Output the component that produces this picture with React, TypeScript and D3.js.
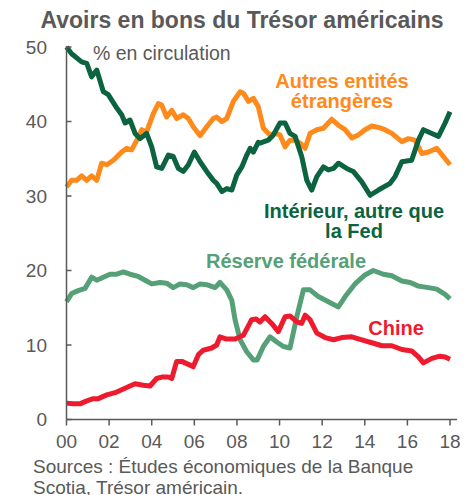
import React from "react";
import * as d3 from "d3";

const W = 473;
const H = 495;

const domesticYears = [0, 0.24, 0.71, 0.95, 1.18, 1.42, 1.73, 1.96, 2.36, 2.59, 2.75, 2.98, 3.22, 3.45, 3.76, 4.0, 4.23, 4.47, 4.78, 5.01, 5.25, 5.48, 5.72, 6.0, 6.27, 6.58, 6.89, 7.05, 7.29, 7.52, 7.76, 7.99, 8.23, 8.46, 8.62, 8.77, 9.0, 9.08, 9.47, 9.71, 10.02, 10.26, 10.49, 10.73, 11.04, 11.28, 11.51, 11.75, 12.06, 12.29, 12.53, 12.76, 13.15, 13.46, 13.86, 14.25, 14.64, 15.19, 15.42, 15.74, 16.2, 16.52, 16.75, 17.15, 17.46, 17.77, 18.0];
const domesticValues = [50.0, 49.1, 48.0, 47.8, 46.0, 46.9, 44.0, 43.6, 41.8, 40.9, 39.8, 40.2, 38.4, 37.7, 38.4, 36.6, 33.9, 33.7, 35.5, 35.3, 33.7, 33.3, 34.2, 35.9, 34.6, 33.3, 32.1, 31.7, 30.6, 31.0, 30.8, 32.8, 33.9, 35.5, 36.4, 35.9, 37.2, 37.1, 37.5, 38.2, 39.8, 39.8, 38.4, 38.0, 35.3, 32.1, 30.8, 32.6, 33.9, 33.5, 33.7, 34.4, 33.7, 33.3, 31.9, 30.1, 30.8, 31.7, 32.6, 34.6, 34.8, 37.5, 38.9, 38.4, 38.0, 39.8, 41.3];

const foreignYears = [0, 0.24, 0.48, 0.71, 0.95, 1.18, 1.42, 1.65, 1.89, 2.2, 2.59, 2.83, 3.06, 3.3, 3.53, 3.76, 4.08, 4.31, 4.47, 4.7, 4.94, 5.17, 5.48, 5.72, 5.95, 6.27, 6.58, 6.89, 7.05, 7.29, 7.52, 7.83, 8.15, 8.3, 8.54, 8.77, 9.0, 9.24, 9.55, 9.79, 10.02, 10.26, 10.49, 10.73, 10.96, 11.2, 11.43, 11.75, 12.06, 12.45, 12.76, 13.08, 13.39, 13.7, 14.01, 14.33, 14.64, 14.95, 15.27, 15.74, 16.05, 16.36, 16.68, 16.99, 17.38, 17.69, 18.0];
const foreignValues = [31.2, 32.1, 32.1, 32.7, 32.1, 32.7, 32.1, 34.4, 34.2, 34.8, 35.9, 36.4, 36.2, 37.5, 38.9, 38.6, 41.1, 42.4, 42.2, 40.6, 41.5, 40.4, 40.9, 40.4, 39.3, 38.1, 39.3, 40.4, 40.6, 40.0, 40.4, 42.7, 44.0, 43.8, 42.7, 43.1, 42.0, 39.1, 38.2, 38.4, 38.2, 36.6, 37.5, 37.5, 37.1, 36.4, 38.4, 38.9, 39.1, 40.3, 39.5, 38.9, 37.8, 38.2, 38.9, 39.4, 39.2, 38.9, 38.4, 37.3, 37.7, 37.5, 35.7, 35.9, 36.4, 35.3, 34.2];

const fedYears = [0, 0.24, 0.55, 0.87, 1.18, 1.42, 1.73, 2.04, 2.36, 2.67, 2.98, 3.37, 3.69, 4.0, 4.39, 4.7, 5.01, 5.33, 5.64, 5.95, 6.27, 6.58, 6.97, 7.2, 7.52, 7.76, 7.91, 8.15, 8.46, 8.77, 8.95, 9.24, 9.55, 9.87, 10.18, 10.49, 10.81, 11.12, 11.43, 11.82, 12.29, 12.76, 13.08, 13.54, 14.01, 14.4, 14.87, 15.27, 15.74, 16.13, 16.52, 16.99, 17.38, 17.77, 18.0];
const fedValues = [15.8, 16.9, 17.3, 17.6, 19.1, 18.7, 19.1, 19.5, 19.5, 19.8, 19.5, 19.2, 18.7, 18.2, 18.4, 18.3, 17.7, 18.2, 18.1, 17.7, 18.2, 18.1, 17.7, 18.4, 17.4, 16.0, 13.4, 10.7, 9.1, 8.0, 8.0, 9.8, 11.1, 10.4, 9.8, 9.6, 13.8, 17.4, 17.4, 16.5, 15.8, 15.1, 16.5, 18.2, 19.4, 20.0, 19.5, 19.3, 18.6, 18.4, 17.9, 17.7, 17.5, 16.8, 16.2];

const chinaYears = [0, 0.31, 0.63, 0.95, 1.26, 1.49, 1.89, 2.28, 2.59, 2.9, 3.22, 3.61, 3.92, 4.23, 4.47, 4.78, 4.94, 5.17, 5.41, 5.72, 5.95, 6.19, 6.42, 6.81, 7.05, 7.2, 7.52, 7.91, 8.3, 8.69, 8.9, 9.08, 9.32, 9.63, 9.94, 10.26, 10.49, 10.81, 11.04, 11.2, 11.43, 11.75, 12.14, 12.53, 12.92, 13.39, 13.86, 14.33, 14.8, 15.27, 15.74, 16.2, 16.52, 16.75, 17.15, 17.53, 17.77, 18.0];
const chinaValues = [2.2, 2.1, 2.1, 2.5, 2.8, 2.8, 3.3, 3.6, 4.0, 4.4, 4.8, 4.6, 4.5, 5.5, 5.7, 5.7, 5.5, 7.8, 7.8, 7.4, 7.1, 8.7, 9.3, 9.6, 10.0, 11.1, 10.8, 10.8, 11.3, 13.4, 13.5, 13.1, 13.8, 12.9, 11.8, 13.8, 13.9, 13.1, 12.9, 14.0, 13.4, 11.6, 11.0, 10.7, 11.0, 11.1, 10.7, 10.3, 9.9, 9.9, 9.4, 9.2, 8.4, 7.6, 8.2, 8.5, 8.4, 8.1];

const yTicks = [0, 10, 20, 30, 40, 50];
const xTicks = [0, 2, 4, 6, 8, 10, 12, 14, 16, 18];
const xTickLabels = ["00", "02", "04", "06", "08", "10", "12", "14", "16", "18"];

const GRAY = "#595959";
const ORANGE = "#FF8A1C";
const DARK_GREEN = "#0B6340";
const LIGHT_GREEN = "#55A077";
const RED = "#EE1B2E";
const FONT = "'Liberation Sans', Arial, sans-serif";

export default function App() {
  const x = d3.scaleLinear().domain([0, 18]).range([66.5, 450]);
  const y = d3.scaleLinear().domain([0, 50]).range([419.5, 47]);

  const line = d3
    .line<[number, number]>()
    .x((d) => x(d[0]))
    .y((d) => y(d[1]));

  const series = [
    { years: foreignYears, values: foreignValues, color: ORANGE },
    { years: fedYears, values: fedValues, color: LIGHT_GREEN },
    { years: chinaYears, values: chinaValues, color: RED },
    { years: domesticYears, values: domesticValues, color: DARK_GREEN },
  ];

  return (
    <svg
      width={W}
      height={H}
      style={{ position: "absolute", left: 0, top: 0, background: "#fff" }}
      fontFamily={FONT}
    >
      <text x={242} y={28} textAnchor="middle" fontSize={23} fontWeight="bold" fill={GRAY}>
        Avoirs en bons du Trésor américains
      </text>
      <text x={93} y={60} fontSize={19.5} fill={GRAY}>
        % en circulation
      </text>

      {series.map((s, i) => (
        <path
          key={i}
          d={line(s.years.map((yr, j) => [yr, s.values[j]] as [number, number])) || ""}
          fill="none"
          stroke={s.color}
          strokeWidth={5}
          strokeLinejoin="round"
          strokeLinecap="butt"
        />
      ))}

      <line x1={x(0)} x2={x(0)} y1={y(50) - 1} y2={y(0)} stroke={GRAY} strokeWidth={1.5} />
      <line x1={x(0)} x2={457} y1={y(0)} y2={y(0)} stroke={GRAY} strokeWidth={1.5} />
      {yTicks.map((t) => (
        <g key={t}>
          <line x1={x(0)} x2={x(0) + 5} y1={y(t)} y2={y(t)} stroke={GRAY} strokeWidth={1.5} />
          <text x={47} y={y(t) + 6.5} textAnchor="end" fontSize={19} fill={GRAY}>
            {t}
          </text>
        </g>
      ))}
      {xTicks.map((t, i) => (
        <g key={t}>
          <line x1={x(t)} x2={x(t)} y1={y(0)} y2={y(0) + 6} stroke={GRAY} strokeWidth={1.5} />
          <text x={x(t)} y={448} textAnchor="middle" fontSize={19} fill={GRAY}>
            {xTickLabels[i]}
          </text>
        </g>
      ))}

      <g fontWeight="bold" fontSize={20} textAnchor="middle">
        <text x={342} y={88} fill={ORANGE}>Autres entités</text>
        <text x={342} y={108} fill={ORANGE}>étrangères</text>
        <text x={354} y={218} fill={DARK_GREEN}>Intérieur, autre que</text>
        <text x={354} y={238} fill={DARK_GREEN}>la Fed</text>
        <text x={286} y={268} fill={LIGHT_GREEN}>Réserve fédérale</text>
        <text x={396} y={335} fill={RED}>Chine</text>
      </g>

      <text x={33} y={473} fontSize={19} fill={GRAY}>
        Sources : Études économiques de la Banque
      </text>
      <text x={33} y={494} fontSize={19} fill={GRAY}>
        Scotia, Trésor américain.
      </text>
    </svg>
  );
}
